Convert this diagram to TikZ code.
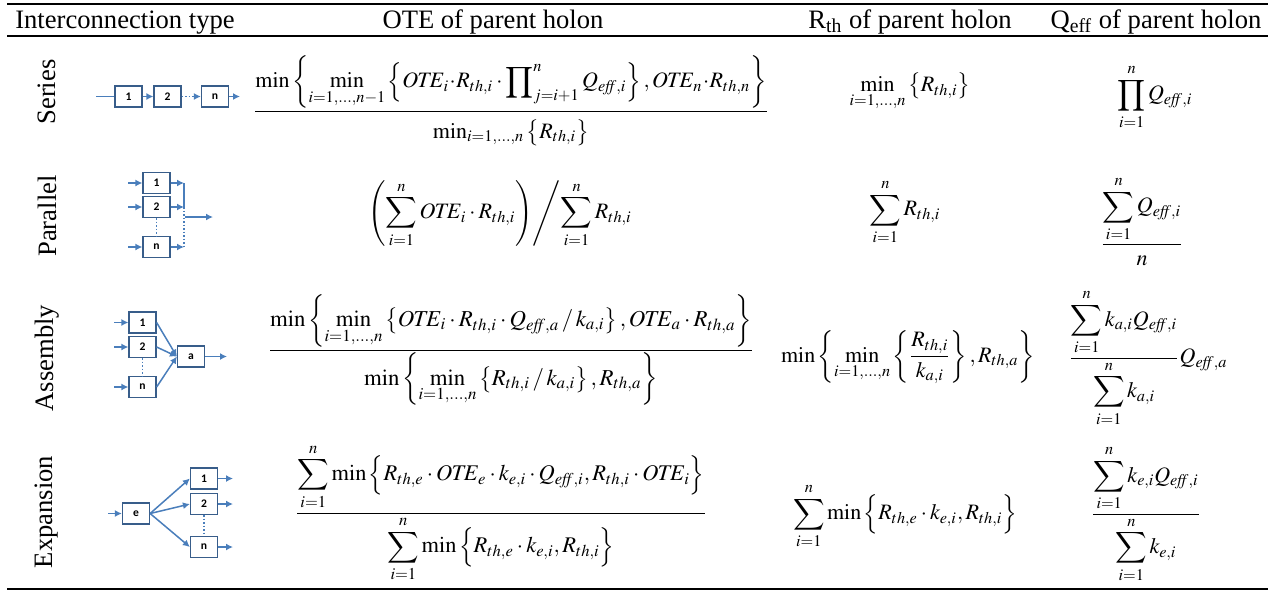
\documentclass[tikz,border=0pt]{standalone}
\usepackage{amsmath}
\usepackage{mathptmx}
\DeclareSymbolFont{largesymbols}{OMX}{cmex}{m}{n}
\usepackage[no-math]{fontspec}
\setmainfont{Liberation Serif}
\newfontfamily\boxfont{Carlito}
\usetikzlibrary{arrows.meta}
\definecolor{boxblue}{RGB}{56,93,138}
\definecolor{linkblue}{RGB}{74,126,187}
\newcommand{\Qe}[1]{Q_{\mathit{eff},#1}}
\newcommand{\Rt}[1]{R_{th,#1}}
\newcommand{\OTE}{\mathit{OTE}}
% raise a numerator, lower a denominator
\newcommand{\up}[2]{\raisebox{#1}{$\displaystyle #2$}}
\newcommand{\dn}[2]{\raisebox{-#1}{$\displaystyle #2$}}

\begin{document}
\begin{tikzpicture}[x=0.5pt, y=-0.5pt,
	hdr/.style={anchor=base, font=\fontsize{13.3}{15}\selectfont, inner sep=0pt},
	rowlbl/.style={rotate=90, font=\fontsize{13.3}{15}\selectfont, inner sep=0pt},
	frm/.style={font=\fontsize{11}{13}\selectfont, inner sep=0pt},
	holon/.style={draw=boxblue, line width=0.6pt, fill=white, minimum width=13.5pt, minimum height=10.5pt, inner sep=0pt, font=\boxfont\bfseries\fontsize{5.8}{6}\selectfont},
	link/.style={draw=linkblue, line width=0.75pt, -{Latex[length=3.5pt,width=3.5pt]}},
	plain/.style={draw=linkblue, line width=0.75pt},
	dots/.style={densely dotted}]
	\useasboundingbox (0,0) rectangle (1272,590);
	% rules
	\draw[line width=1.3pt] (7,4) -- (1268,4);
	\draw[line width=0.9pt] (7,36) -- (1268,36);
	\draw[line width=1.3pt] (7,589) -- (1268,589);
	% header
	\node[hdr] (h1) at (125,28) {Interconnection type};
	\node[hdr] (h2) at (493,28) {OTE of parent holon};
	\node[hdr] (h3) at (910,28) {R\textsubscript{th} of parent holon};
	\node[hdr] (h4) at (1156,28) {Q\textsubscript{eff} of parent holon};
	% row labels
	\node[rowlbl] (series) at (47,92) {Series};
	\node[rowlbl] (parallel) at (47,216) {Parallel};
	\node[rowlbl] (assembly) at (47,358) {Assembly};
	\node[rowlbl] (expansion) at (47,512) {Expansion};

	% series
	\node[holon] (s1) at (128.5,96.5) {1};
	\node[holon] (s2) at (167.5,96.5) {2};
	\node[holon] (sn) at (215,96.5) {n};
	\coordinate (sin) at (96,96.5);
	\coordinate (sout) at (240,96.5);
	\draw[plain] (sin) -- (s1);
	\draw[link] (s1) -- (s2);
	\draw[link, dots] (s2) -- (sn);
	\draw[link] (sn) -- (sout);

	% parallel
	\node[holon] (p1) at (156.5,183) {1};
	\node[holon] (p2) at (156.5,207) {2};
	\node[holon] (pn) at (156.5,247) {n};
	\coordinate (pbus1) at (184,183);
	\coordinate (pbus2) at (184,207);
	\coordinate (pbusn) at (184,247);
	\coordinate (pbusm) at (185,217);
	\coordinate (pout) at (213,217);
	\foreach \b/\y in {p1/183,p2/207,pn/247} {
		\coordinate (\b in) at (128,\y);
		\draw[link] (\b in) -- (\b);
	}
	\draw[link] (p1) -- (pbus1);
	\draw[link] (p2) -- (pbus2);
	\draw[link] (pn) -- (pbusn);
	\draw[plain] (pbus1) -- (pbus2);
	\draw[plain, dots] (pbus2) -- (pbusn);
	\draw[plain, dots] (p2) -- (pn);
	\draw[link] (pbusm) -- (pout);

	% assembly
	\node[holon] (a1) at (142.5,322.5) {1};
	\node[holon] (a2) at (142.5,347) {2};
	\node[holon] (an) at (142.5,387) {n};
	\node[holon] (aa) at (191,356.5) {a};
	\coordinate (aout) at (227,356.5);
	\foreach \b/\y in {a1/322.5,a2/347,an/387} {
		\coordinate (\b in) at (114,\y);
		\draw[link] (\b in) -- (\b);
		\draw[link] (\b.east) -- (aa.west);
	}
	\draw[plain, dots] (a2) -- (an);
	\draw[link] (aa) -- (aout);

	% expansion
	\node[holon] (ee) at (136,513.5) {e};
	\node[holon] (e1) at (204,478.5) {1};
	\node[holon] (e2) at (204,504) {2};
	\node[holon] (en) at (204,547) {n};
	\coordinate (ein) at (108,513.5);
	\draw[link] (ein) -- (ee);
	\foreach \b/\y in {e1/478.5,e2/504,en/547} {
		\coordinate (\b out) at (233,\y);
		\draw[link] (ee.east) -- (\b.west);
		\draw[link] (\b) -- (\b out);
	}
	\draw[plain, dots] (e2) -- (en);

	% formulas, series
	\node[frm] (ote1) at (511,101) {$\displaystyle
		\frac{\up{3pt}{\min\left\{\min\limits_{i=1,\ldots,n-1}\left\{\OTE_i\!\cdot\!\Rt{i}\cdot\prod\nolimits_{j=i+1}^{n}\Qe{i}\right\},\OTE_n\!\cdot\!\Rt{n}\right\}}}
		{\dn{3pt}{\min\nolimits_{i=1,\ldots,n}\left\{\Rt{i}\right\}}}$};
	\node[frm] (rth1) at (910,92) {$\displaystyle\min_{i=1,\ldots,n}\big\{\Rt{i}\big\}$};
	\node[frm] (qef1) at (1155,97) {$\displaystyle\prod_{i=1}^{n}\Qe{i}$};
	% parallel
	\node[frm] (ote2) at (500,214) {$\displaystyle
		\left.\left(\sum_{i=1}^{n}\OTE_i\cdot\Rt{i}\right)\middle/\sum_{i=1}^{n}\Rt{i}\right.$};
	\node[frm] (rth2) at (905,212) {$\displaystyle\sum_{i=1}^{n}\Rt{i}$};
	\node[frm] (qef2) at (1142,221) {$\displaystyle\frac{\displaystyle\sum_{i=1}^{n}\Qe{i}}{n}$};
	% assembly
	\node[frm, font=\fontsize{11.4}{13}\selectfont] (ote3) at (511,350) {$\displaystyle
		\frac{\up{3pt}{\min\left\{\min\limits_{i=1,\ldots,n}\left\{\OTE_i\cdot\Rt{i}\cdot\Qe{a}\,/\,k_{a,i}\right\},\OTE_a\cdot\Rt{a}\right\}}}
		{\dn{2pt}{\min\left\{\min\limits_{i=1,\ldots,n}\left\{\Rt{i}\,/\,k_{a,i}\right\},\Rt{a}\right\}}}$};
	\node[frm] (rth3) at (908,357) {$\displaystyle
		\min\left\{\min_{i=1,\ldots,n}\left\{\frac{\Rt{i}}{k_{a,i}}\right\},\Rt{a}\right\}$};
	\node[frm] (qef3) at (1148,358) {$\displaystyle
		\frac{\displaystyle\sum_{i=1}^{n}k_{a,i}\Qe{i}}{\displaystyle\sum_{i=1}^{n}k_{a,i}}\Qe{a}$};
	% expansion
	\node[frm, font=\fontsize{11.2}{13}\selectfont] (ote4) at (501,513) {$\displaystyle
		\frac{\displaystyle\sum_{i=1}^{n}\min\Big\{\Rt{e}\cdot\OTE_e\cdot k_{e,i}\cdot\Qe{i},\Rt{i}\cdot\OTE_i\Big\}}
		{\dn{2pt}{\sum_{i=1}^{n}\min\Big\{\Rt{e}\cdot k_{e,i},\Rt{i}\Big\}}}$};
	\node[frm] (rth4) at (905,516) {$\displaystyle\sum_{i=1}^{n}\min\Big\{\Rt{e}\cdot k_{e,i},\Rt{i}\Big\}$};
	\node[frm] (qef4) at (1146,514) {$\displaystyle
		\frac{\displaystyle\sum_{i=1}^{n}k_{e,i}\Qe{i}}{\displaystyle\sum_{i=1}^{n}k_{e,i}}$};
\end{tikzpicture}
\end{document}
